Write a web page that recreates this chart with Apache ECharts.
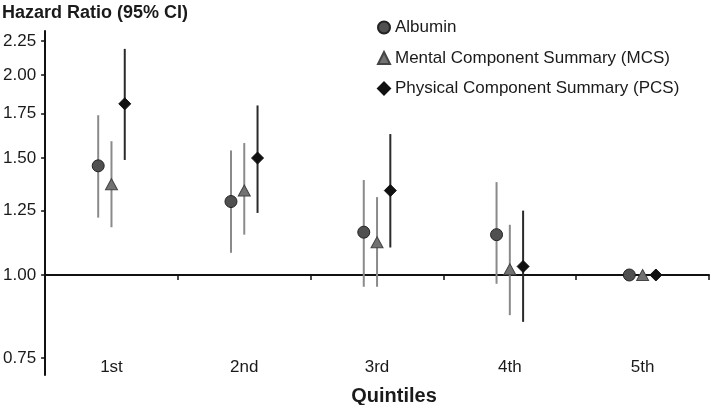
<!DOCTYPE html>
<html>
<head>
<meta charset="utf-8">
<script src="https://cdn.jsdelivr.net/npm/echarts@6/dist/echarts.min.js"></script>
<style>
html,body{margin:0;padding:0;background:#fff;}
#chart{width:711px;height:405px;}
</style>
</head>
<body>
<div id="chart"></div>
<script>
const categories = ['1st', '2nd', '3rd', '4th', '5th'];
const albuminHR = [1.46, 1.29, 1.16, 1.15, 1.00];
const albuminLower = [1.22, 1.08, 0.96, 0.97, null];
const albuminUpper = [1.74, 1.54, 1.39, 1.38, null];
const mcsHR = [1.37, 1.34, 1.12, 1.02, 1.00];
const mcsLower = [1.18, 1.15, 0.96, 0.87, null];
const mcsUpper = [1.59, 1.58, 1.31, 1.19, null];
const pcsHR = [1.81, 1.50, 1.34, 1.03, 1.00];
const pcsLower = [1.49, 1.24, 1.10, 0.85, null];
const pcsUpper = [2.19, 1.80, 1.63, 1.25, null];
const yTicks = [0.75, 1.00, 1.25, 1.50, 1.75, 2.00, 2.25];

const FONT = "'Liberation Sans', Arial, sans-serif";
const ln = Math.log;
const yMin = ln(0.707), yMax = ln(2.33);

function pts(vals, off) {
  return vals.map((v, i) => [i + off, ln(v)]);
}
function bars(lo, hi, off) {
  const out = [];
  lo.forEach((l, i) => { if (l != null && hi[i] != null) out.push([i + off, ln(l), ln(hi[i])]); });
  return out;
}
function errSeries(data, color, width) {
  return {
    type: 'custom',
    silent: true,
    z: 1,
    data: data,
    encode: { x: 0, y: [1, 2] },
    renderItem: function (params, api) {
      const a = api.coord([api.value(0), api.value(1)]);
      const b = api.coord([api.value(0), api.value(2)]);
      return {
        type: 'line',
        shape: { x1: a[0], y1: a[1], x2: b[0], y2: b[1] },
        style: { stroke: color, lineWidth: width }
      };
    }
  };
}

const chart = echarts.init(document.getElementById('chart'), null, { renderer: 'canvas' });
const boundaries = [];
for (let i = 0; i <= categories.length; i++) boundaries.push(i - 0.5);

chart.setOption({
  animation: false,
  textStyle: { fontFamily: FONT },
  title: [
    { text: 'Hazard Ratio (95% CI)', left: -3, top: -1,
      textStyle: { fontFamily: FONT, fontSize: 18, fontWeight: 'bold', color: '#1a1a1a' } },
    { text: 'Quintiles', left: 389, top: 381, textAlign: 'center',
      textStyle: { fontFamily: FONT, fontSize: 20, fontWeight: 'bold', color: '#1a1a1a' } }
  ],
  legend: {
    orient: 'vertical',
    left: 372,
    top: 14,
    itemWidth: 12,
    itemHeight: 12,
    itemGap: 13.5,
    textStyle: { fontFamily: FONT, fontSize: 17, color: '#1a1a1a' },
    data: ['Albumin', 'Mental Component Summary (MCS)', 'Physical Component Summary (PCS)']
  },
  grid: { left: 45, right: 2, top: 31, bottom: 30, containLabel: false },
  xAxis: [
    {
      type: 'value', position: 'bottom', min: -0.5, max: 4.5,
      axisLine: { show: false, onZero: false },
      axisTick: { show: false },
      splitLine: { show: false },
      axisLabel: {
        margin: -16,
        customValues: categories.map((c, i) => i),
        formatter: v => categories[Math.round(v)],
        fontFamily: FONT, fontSize: 17, color: '#1a1a1a'
      }
    },
    {
      type: 'value', position: 'bottom', min: -0.5, max: 4.5,
      axisLine: { show: true, onZero: true, lineStyle: { color: '#111', width: 2 } },
      axisTick: { show: true, inside: false, length: 5, customValues: boundaries, lineStyle: { color: '#111', width: 1.5 } },
      axisLabel: { show: false },
      splitLine: { show: false }
    }
  ],
  yAxis: {
    type: 'value', min: yMin, max: yMax,
    axisLine: { show: true, onZero: false, lineStyle: { color: '#111', width: 2 } },
    axisTick: { show: true, inside: false, length: 4, customValues: yTicks.map(ln), lineStyle: { color: '#111', width: 1.5 } },
    splitLine: { show: false },
    axisLabel: {
      margin: 9,
      customValues: yTicks.map(ln),
      formatter: v => Math.exp(v).toFixed(2),
      fontFamily: FONT, fontSize: 17, color: '#1a1a1a'
    }
  },
  series: [
    errSeries(bars(albuminLower, albuminUpper, -0.1), '#8a8a8a', 2),
    errSeries(bars(mcsLower, mcsUpper, 0), '#8a8a8a', 2),
    errSeries(bars(pcsLower, pcsUpper, 0.1), '#2a2a2a', 2),
    {
      name: 'Albumin', type: 'scatter', z: 5, symbol: 'circle', symbolSize: 12,
      itemStyle: { color: '#505050', borderColor: '#222', borderWidth: 1, opacity: 1 },
      data: pts(albuminHR, -0.1)
    },
    {
      name: 'Mental Component Summary (MCS)', type: 'scatter', z: 5, symbol: 'triangle', symbolSize: [12, 11],
      itemStyle: { color: '#727272', borderColor: '#444', borderWidth: 1, opacity: 1 },
      data: pts(mcsHR, 0)
    },
    {
      name: 'Physical Component Summary (PCS)', type: 'scatter', z: 5, symbol: 'diamond', symbolSize: 12,
      itemStyle: { color: '#111', borderColor: '#111', borderWidth: 1, opacity: 1 },
      data: pts(pcsHR, 0.1)
    }
  ]
});
</script>
</body>
</html>
